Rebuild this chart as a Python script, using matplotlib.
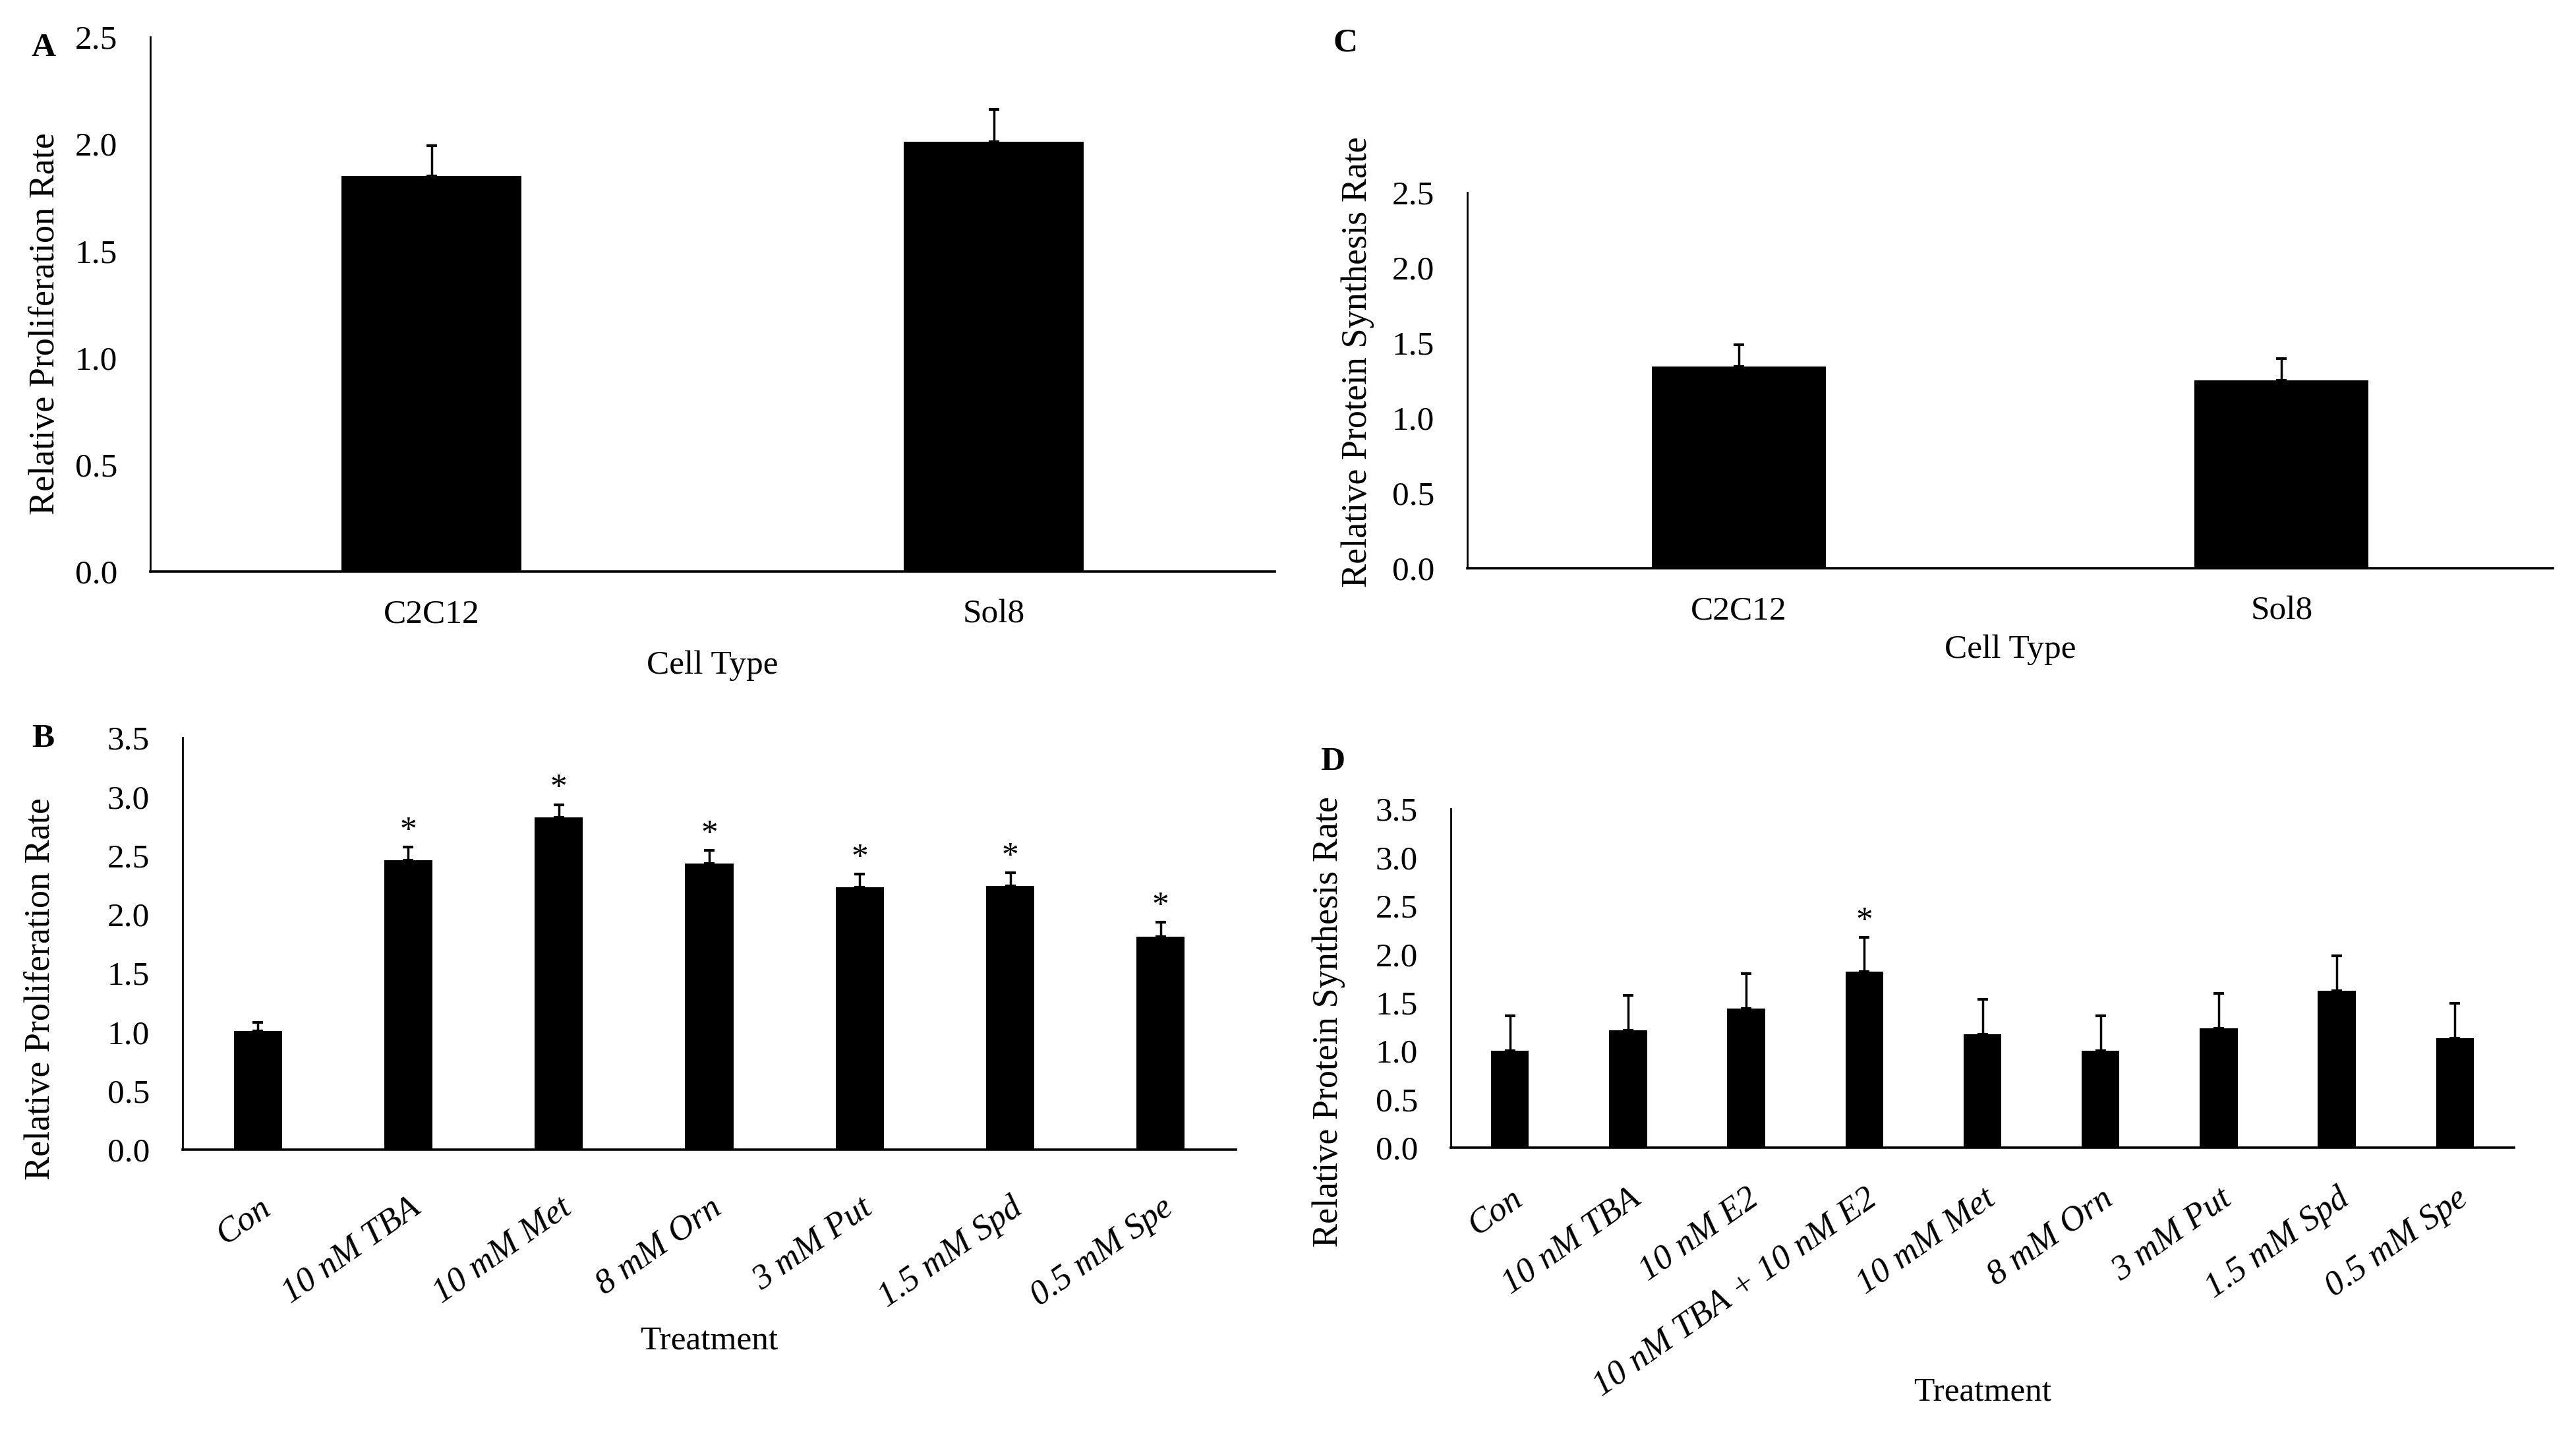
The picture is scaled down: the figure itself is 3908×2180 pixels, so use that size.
import numpy as np
import matplotlib
matplotlib.use("Agg")
import matplotlib.pyplot as plt

plt.rcParams['font.family'] = ['Liberation Serif', 'DejaVu Serif']

# === DATOS ===
cell_types = ["C2C12", "Sol8"]
prolif_cell = [1.85, 2.01]
prolif_cell_err = [0.14, 0.15]
protein_cell = [1.34, 1.25]
protein_cell_err = [0.145, 0.145]

treat_b = ["Con", "10 nM TBA", "10 mM Met", "8 mM Orn", "3 mM Put", "1.5 mM Spd", "0.5 mM Spe"]
prolif_treat = [1.01, 2.46, 2.82, 2.43, 2.23, 2.24, 1.81]
prolif_treat_err = [0.07, 0.11, 0.11, 0.11, 0.11, 0.11, 0.12]
sig_b = [False, True, True, True, True, True, True]

treat_d = ["Con", "10 nM TBA", "10 nM E2", "10 nM TBA + 10 nM E2", "10 mM Met",
           "8 mM Orn", "3 mM Put", "1.5 mM Spd", "0.5 mM Spe"]
protein_treat = [1.00, 1.21, 1.44, 1.82, 1.17, 1.00, 1.23, 1.62, 1.13]
protein_treat_err = [0.36, 0.36, 0.36, 0.35, 0.36, 0.36, 0.36, 0.36, 0.36]
sig_d = [False, False, False, True, False, False, False, False, False]

W, H = 3908, 2180
DPI = 100
FS = 37


def px_box(l, t, r, b):
    return [l / W, 1 - b / H, (r - l) / W, (b - t) / H]


def fx(x):
    return x / W


def fy(y):
    return 1 - y / H


def bar_panel(ax, cats, vals, errs, ymax, sig=None, rotate=False, xpad=28):
    x = np.arange(len(cats))
    ax.bar(x, vals, width=0.32, color="black", zorder=2)
    ax.errorbar(x, vals, yerr=[np.zeros(len(vals)), errs], fmt="none",
                ecolor="black", elinewidth=2.5, capsize=6, capthick=3, zorder=3)
    if sig is not None:
        for xi, v, e, s in zip(x, vals, errs, sig):
            if s:
                ax.annotate("*", (xi, v + e), xytext=(0, 9), textcoords="offset points",
                            ha="center", va="baseline", fontsize=FS)
    ax.set_xlim(-0.5, len(cats) - 0.5)
    ax.set_ylim(0, ymax)
    ticks = np.arange(0, ymax + 0.01, 0.5)
    ax.set_yticks(ticks)
    ax.set_yticklabels([f"{t:.1f}" for t in ticks], fontsize=FS)
    ax.set_xticks(x)
    if rotate:
        ax.set_xticklabels(cats, rotation=35, ha="right", va="top",
                           rotation_mode="anchor", fontstyle="italic", fontsize=38)
    else:
        ax.set_xticklabels(cats, fontsize=FS)
    ax.tick_params(axis="both", length=0)
    ax.tick_params(axis="y", pad=36)
    ax.tick_params(axis="x", pad=xpad)
    ax.spines["top"].set_visible(False)
    ax.spines["right"].set_visible(False)
    ax.spines["left"].set_linewidth(2.0)
    ax.spines["bottom"].set_linewidth(2.6)


fig = plt.figure(figsize=(W / DPI, H / DPI), dpi=DPI)

# ============================================================
# A: proliferación por tipo celular
# ============================================================
axA = fig.add_axes(px_box(228, 56, 1934, 867))
bar_panel(axA, cell_types, prolif_cell, prolif_cell_err, 2.5, xpad=30)
fig.text(fx(1081), fy(1010), "Cell Type", ha="center", va="center", fontsize=FS)
fig.text(fx(69), fy(491), "Relative Proliferation Rate", rotation=90,
         ha="center", va="center", fontsize=39)
fig.text(fx(66), fy(73), "A", ha="center", va="center", fontsize=FS, fontweight="bold")

# ============================================================
# C: síntesis de proteína por tipo celular
# ============================================================
axC = fig.add_axes(px_box(2226, 292, 3873, 862))
bar_panel(axC, cell_types, protein_cell, protein_cell_err, 2.5, xpad=30)
fig.text(fx(3050), fy(986), "Cell Type", ha="center", va="center", fontsize=FS)
fig.text(fx(2060), fy(549), "Relative Protein Synthesis Rate", rotation=90,
         ha="center", va="center", fontsize=39)
fig.text(fx(2041), fy(66), "C", ha="center", va="center", fontsize=FS, fontweight="bold")

# ============================================================
# B: proliferación por tratamiento
# ============================================================
axB = fig.add_axes(px_box(277, 1119, 1875, 1744))
bar_panel(axB, treat_b, prolif_treat, prolif_treat_err, 3.5, sig=sig_b, rotate=True, xpad=46)
fig.text(fx(1076), fy(2034), "Treatment", ha="center", va="center", fontsize=FS)
fig.text(fx(62), fy(1500), "Relative Proliferation Rate", rotation=90,
         ha="center", va="center", fontsize=39)
fig.text(fx(65), fy(1121), "B", ha="center", va="center", fontsize=FS, fontweight="bold")

# ============================================================
# D: síntesis de proteína por tratamiento
# ============================================================
axD = fig.add_axes(px_box(2201, 1227, 3814, 1741))
bar_panel(axD, treat_d, protein_treat, protein_treat_err, 3.5, sig=sig_d, rotate=True, xpad=38)
fig.text(fx(3008), fy(2112), "Treatment", ha="center", va="center", fontsize=FS)
fig.text(fx(2016), fy(1550), "Relative Protein Synthesis Rate", rotation=90,
         ha="center", va="center", fontsize=39)
fig.text(fx(2022), fy(1156), "D", ha="center", va="center", fontsize=FS, fontweight="bold")

fig.savefig("out.png", dpi=DPI, facecolor="white")
plt.close(fig)
